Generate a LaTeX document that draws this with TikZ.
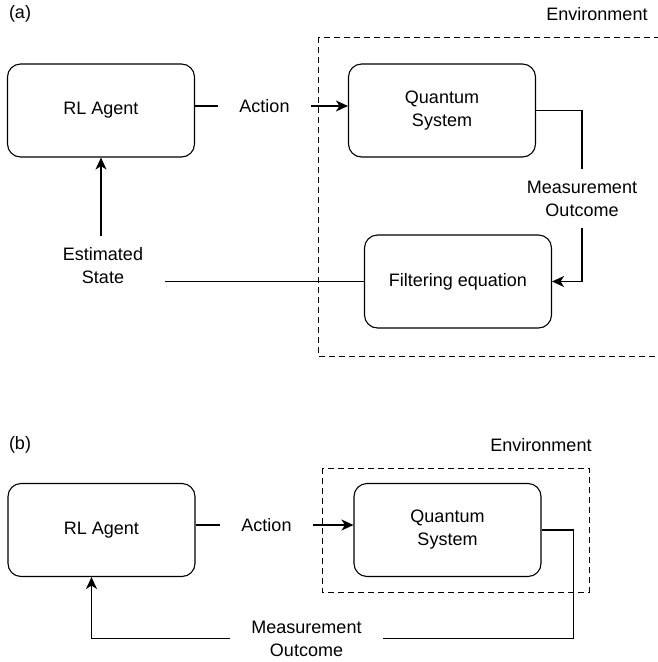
\documentclass[tikz,border=0pt]{standalone}
\usepackage{fontspec}
\setmainfont{Liberation Sans}
\usetikzlibrary{arrows.meta}

\begin{document}
\begin{tikzpicture}[x=1pt, y=-1pt, line width=1.1pt, font=\fontsize{18}{23}\selectfont,
    block/.style={draw, rounded corners=13pt, minimum width=187pt, minimum height=93pt, align=center},
    lbl/.style={align=center, inner xsep=21pt, inner ysep=11pt},
    envbox/.style={draw, line width=0.9pt, dash pattern=on 6pt off 4pt},
    arr/.style={-{Stealth[length=12pt, width=11pt, inset=3.5pt]}}]
        \useasboundingbox (0,0) rectangle (657,662);

        \node (tagA) at (20, 14) {(a)};
        \node (envA) at (597, 14) {Environment};
        \draw[envbox] (318, 37) rectangle (680, 356);

        \node[block] (agentA) at (101, 110.5) {RL Agent};
        \node[block] (qsA) at (442, 110.5) {Quantum\\System};
        \node[block] (filtA) at (458, 281.5) {Filtering equation};

        \node[lbl] (actA) at (264.5, 106) {Action};
        \node[lbl] (measA) at (582, 198.5) {Measurement\\Outcome};
        \node[lbl] (estA) at (103, 266) {Estimated\\State};

        \draw (agentA.east |- actA) -- (actA.west);
        \draw[arr] (actA.east) -- (qsA.west |- actA);
        \draw (qsA.east) -| (measA.north);
        \draw[arr] (measA.south) |- (filtA.east);
        \draw (filtA.west) -- (filtA.west -| estA.east);
        \draw[arr] (agentA.south |- estA.north) -- (agentA.south);

        \node (tagB) at (20, 445) {(b)};
        \node (envB) at (541, 445) {Environment};
        \draw[envbox] (322, 468) rectangle (589, 592);

        \node[block] (agentB) at (101.5, 530) {RL Agent};
        \node[block] (qsB) at (447.5, 530) {Quantum\\System};

        \node[lbl] (actB) at (266.5, 525) {Action};
        \node[lbl] (measB) at (306.5, 638.5) {Measurement\\Outcome};

        \draw (agentB.east |- actB) -- (actB.west);
        \draw[arr] (actB.east) -- (qsB.west |- actB);
        \draw (qsB.east) -- ++(32, 0) |- (measB.east);
        \draw[arr] (measB.west) -| ([xshift=-10pt]agentB.south);

\end{tikzpicture}
\end{document}
